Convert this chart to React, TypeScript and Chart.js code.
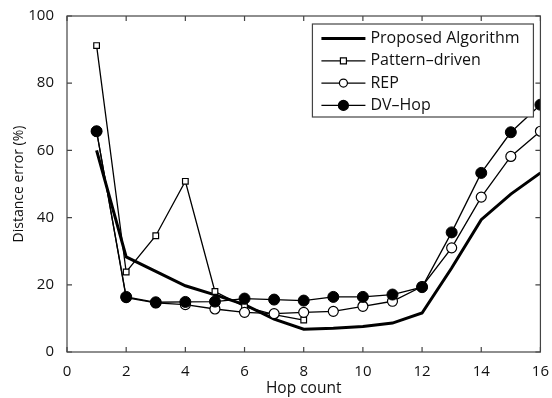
import React, { useEffect, useRef } from "react";
import { Chart, registerables } from "chart.js";
Chart.register(...registerables);

const hops = [1, 2, 3, 4, 5, 6, 7, 8, 9, 10, 11, 12, 13, 14, 15, 16];
const patternHops = [1, 2, 3, 4, 5, 6, 7, 8];
const proposed = [60, 28.3, 24, 19.7, 17, 14.1, 9.8, 6.8, 7.1, 7.6, 8.6, 11.6, 25, 39.4, 47, 53.3];
const patternDriven = [91.2, 23.8, 34.6, 50.8, 18, 13.5, 11.1, 9.5];
const rep = [65.7, 16.2, 14.6, 14.1, 12.8, 11.8, 11.4, 11.8, 12.1, 13.6, 15.1, 19.5, 31, 46.1, 58.2, 65.7];
const dvHop = [65.7, 16.4, 14.8, 14.9, 15.0, 15.9, 15.6, 15.3, 16.4, 16.4, 17.1, 19.3, 35.6, 53.3, 65.4, 73.6];
const seriesLabels = ["Proposed Algorithm", "Pattern\u2013driven", "REP", "DV\u2013Hop"];
const xTitle = "Hop count";
const yTitle = "Distance error (%)";

const FONT = "'Open Sans', sans-serif";
const INK = "#111";
const FRAME = "#444";

const toPts = (xs: number[], ys: number[]) => xs.map((x, i) => ({ x, y: ys[i] }));

const framePlugin = {
  id: "frameTicks",
  afterDraw(chart: any) {
    const { ctx, chartArea } = chart;
    const { left, right, top, bottom } = chartArea;
    const xs = chart.scales.x;
    const ys = chart.scales.y;
    ctx.save();
    ctx.strokeStyle = FRAME;
    ctx.lineWidth = 1.2;
    ctx.strokeRect(left, top, right - left, bottom - top);
    const tl = 5;
    ctx.beginPath();
    xs.ticks.forEach((t: any) => {
      const px = xs.getPixelForValue(t.value);
      ctx.moveTo(px, bottom);
      ctx.lineTo(px, bottom - tl);
      ctx.moveTo(px, top);
      ctx.lineTo(px, top + tl);
    });
    ys.ticks.forEach((t: any) => {
      const py = ys.getPixelForValue(t.value);
      ctx.moveTo(left, py);
      ctx.lineTo(left + tl, py);
      ctx.moveTo(right, py);
      ctx.lineTo(right - tl, py);
    });
    ctx.stroke();
    ctx.restore();
  },
  afterDatasetsDraw(chart: any) {
    const { ctx, chartArea } = chart;
    const bw = 221;
    const bh = 93;
    const bx = chartArea.right - 7 - bw;
    const by = chartArea.top + 8;
    ctx.save();
    ctx.fillStyle = "#fff";
    ctx.fillRect(bx, by, bw, bh);
    ctx.strokeStyle = FRAME;
    ctx.lineWidth = 1.2;
    ctx.strokeRect(bx, by, bw, bh);
    const markerSizes = [0, 3, 4, 5];
    chart.data.datasets.forEach((ds: any, i: number) => {
      const y = by + 14.5 + i * 22.3;
      const x0 = bx + 9;
      const x1 = bx + 53;
      ctx.strokeStyle = ds.borderColor;
      ctx.lineWidth = ds.borderWidth;
      ctx.beginPath();
      ctx.moveTo(x0, y);
      ctx.lineTo(x1, y);
      ctx.stroke();
      const cx = (x0 + x1) / 2;
      const r = markerSizes[i];
      if (r > 0) {
        ctx.lineWidth = 1.2;
        ctx.fillStyle = ds.pointBackgroundColor;
        ctx.beginPath();
        if (ds.pointStyle === "rect") {
          ctx.rect(cx - r, y - r, 2 * r, 2 * r);
        } else {
          ctx.arc(cx, y, r, 0, Math.PI * 2);
        }
        ctx.fill();
        ctx.stroke();
      }
      ctx.fillStyle = INK;
      ctx.font = `16px ${FONT}`;
      ctx.textBaseline = "middle";
      ctx.textAlign = "left";
      ctx.fillText(ds.label, bx + 58, y);
    });
    ctx.restore();
  },
};

export default function App() {
  const ref = useRef<HTMLCanvasElement>(null);
  useEffect(() => {
    if (!ref.current) return;
    const chart = new Chart(ref.current, {
      type: "line",
      data: {
        datasets: [
          {
            label: seriesLabels[0],
            data: toPts(hops, proposed),
            borderColor: "#000",
            borderWidth: 3,
            pointRadius: 0,
            tension: 0,
            order: 3,
          },
          {
            label: seriesLabels[1],
            data: toPts(patternHops, patternDriven),
            borderColor: "#000",
            borderWidth: 1.3,
            pointStyle: "rect",
            pointRadius: 4,
            pointBorderWidth: 1.2,
            pointBackgroundColor: "#fff",
            pointBorderColor: "#000",
            tension: 0,
            order: 2,
          },
          {
            label: seriesLabels[2],
            data: toPts(hops, rep),
            borderColor: "#000",
            borderWidth: 1.3,
            pointStyle: "circle",
            pointRadius: 5,
            pointBorderWidth: 1.2,
            pointBackgroundColor: "#fff",
            pointBorderColor: "#000",
            tension: 0,
            order: 1,
          },
          {
            label: seriesLabels[3],
            data: toPts(hops, dvHop),
            borderColor: "#000",
            borderWidth: 1.3,
            pointStyle: "circle",
            pointRadius: 5.5,
            pointBorderWidth: 1,
            pointBackgroundColor: "#000",
            pointBorderColor: "#000",
            tension: 0,
            order: 0,
          },
        ],
      },
      options: {
        responsive: false,
        animation: false,
        layout: { padding: { top: 16, right: 6, left: 0, bottom: 0 } },
        plugins: { legend: { display: false }, tooltip: { enabled: false } },
        scales: {
          x: {
            type: "linear",
            min: 0,
            max: 16,
            grid: { display: false },
            border: { display: false },
            ticks: { stepSize: 2, color: INK, font: { family: FONT, size: 15 }, padding: 3, maxRotation: 0 },
            title: { display: true, text: xTitle, color: INK, font: { family: FONT, size: 15.5 }, padding: { top: 0, bottom: 0 } },
            afterFit: (s: any) => { s.height = 46; },
          },
          y: {
            type: "linear",
            min: 0,
            max: 100,
            grid: { display: false },
            border: { display: false },
            ticks: { stepSize: 20, color: INK, font: { family: FONT, size: 15 }, padding: 5 },
            title: { display: true, text: yTitle, color: INK, font: { family: FONT, size: 14 }, padding: { top: 11, bottom: 0 } },
            afterFit: (s: any) => { s.width = 67; },
          },
        },
      },
      plugins: [framePlugin],
    });
    return () => chart.destroy();
  }, []);
  return (
    <div style={{ position: "absolute", left: 0, top: 0, width: 552, height: 398, background: "#fff" }}>
      <canvas ref={ref} width={552} height={398} />
    </div>
  );
}
